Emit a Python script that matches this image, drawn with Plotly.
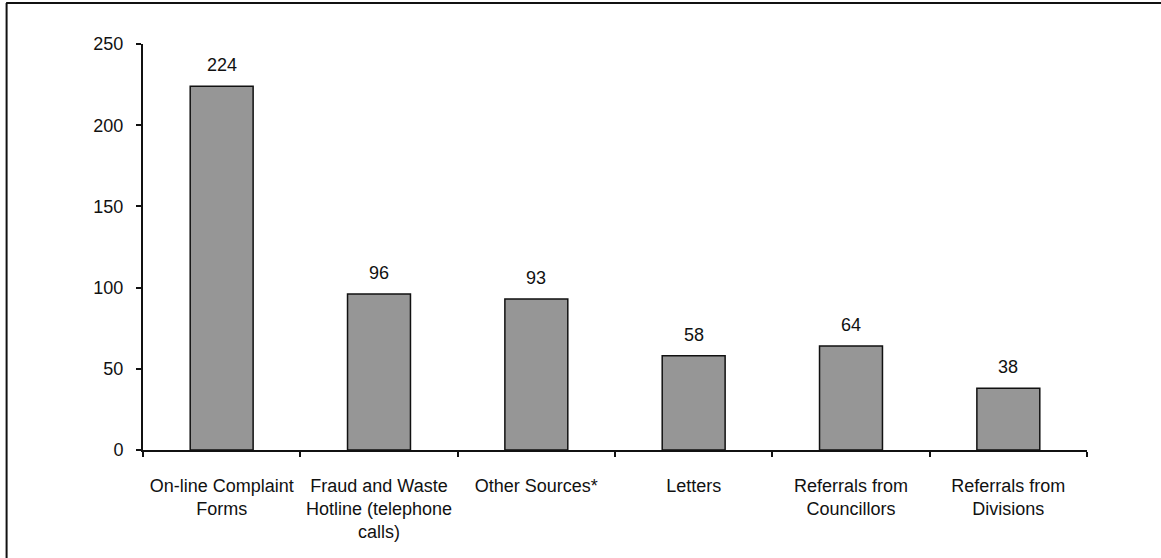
import plotly.graph_objects as go

# Complaint sources and counts
categories = [
    "On-line Complaint<br>Forms",
    "Fraud and Waste<br>Hotline (telephone<br>calls)",
    "Other Sources*",
    "Letters",
    "Referrals from<br>Councillors",
    "Referrals from<br>Divisions",
]
counts = [224, 96, 93, 58, 64, 38]
y_ticks = [0, 50, 100, 150, 200, 250]

FONT = "Liberation Sans, Arial, sans-serif"
FSIZE = 18

fig = go.Figure()
fig.add_trace(
    go.Bar(
        x=categories,
        y=counts,
        marker=dict(color="#969696", line=dict(color="#111111", width=1.5)),
        width=0.4,
        hoverinfo="skip",
    )
)

# Value labels above each bar
for cat, val in zip(categories, counts):
    fig.add_annotation(
        x=cat, y=val, text=str(val), showarrow=False,
        yanchor="bottom", yshift=9,
        font=dict(family=FONT, size=FSIZE, color="#111111"),
    )

# Outer frame: top and left edges
fig.add_shape(type="line", xref="paper", yref="paper",
              x0=-0.145, x1=1.2, y0=1.101, y1=1.101,
              line=dict(color="#111111", width=2))
fig.add_shape(type="line", xref="paper", yref="paper",
              x0=-0.1445, x1=-0.1445, y0=-0.3, y1=1.101,
              line=dict(color="#111111", width=2))

fig.update_layout(
    width=1161, height=558,
    margin=dict(l=143, r=74, t=44, b=108),
    paper_bgcolor="white", plot_bgcolor="white",
    showlegend=False,
    font=dict(family=FONT, size=FSIZE, color="#111111"),
    xaxis=dict(
        range=[-0.5, 5.5],
        showline=True, linecolor="#111111", linewidth=2,
        ticks="outside", tickson="boundaries", ticklen=5,
        tickcolor="#111111", tickwidth=1.5,
        showgrid=False, zeroline=False,
        tickfont=dict(family=FONT, size=FSIZE, color="#111111"),
        ticklabelstandoff=18,
    ),
    yaxis=dict(
        range=[0, 250],
        tickvals=y_ticks,
        showline=True, linecolor="#111111", linewidth=2,
        ticks="outside", ticklen=5, tickcolor="#111111", tickwidth=1.5,
        showgrid=False, zeroline=False,
        tickfont=dict(family=FONT, size=FSIZE, color="#111111"),
        ticklabelstandoff=9,
    ),
)

fig.write_html("out.html")
